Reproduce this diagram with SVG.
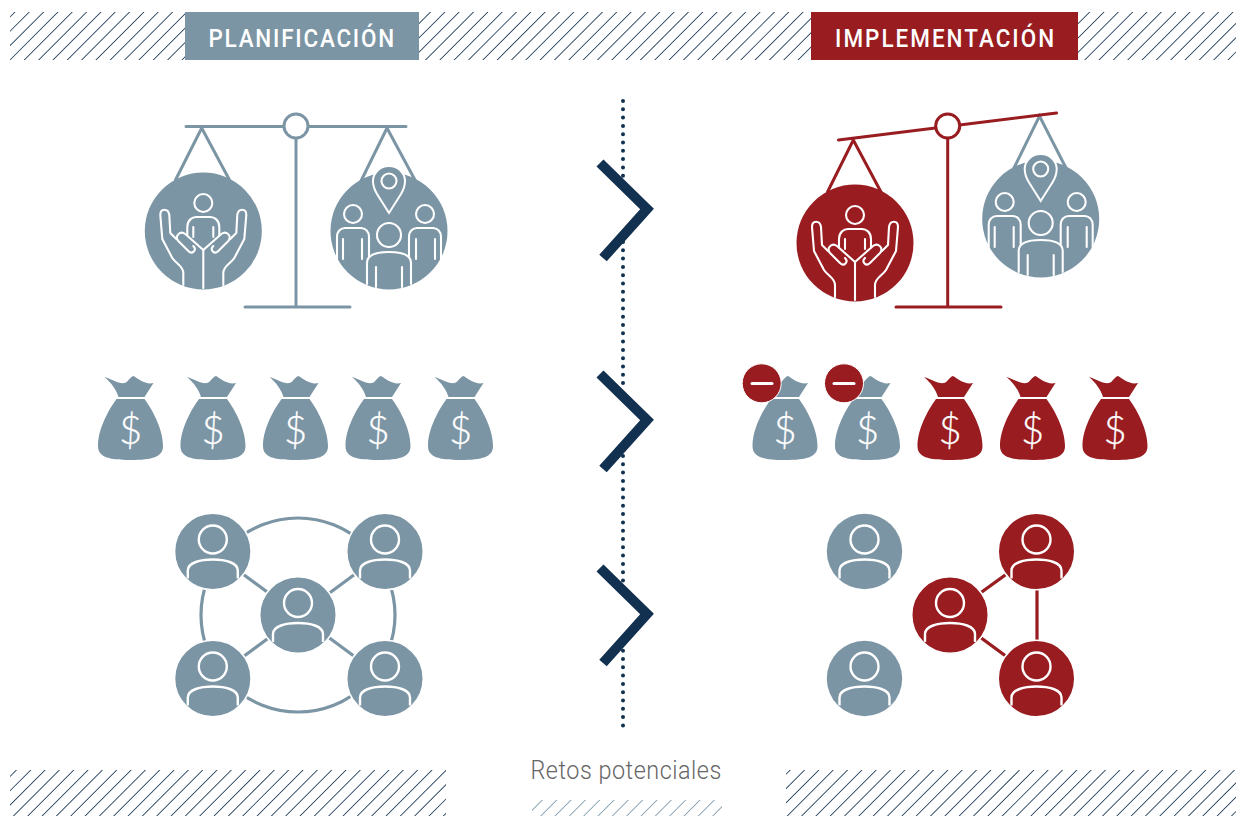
<svg xmlns="http://www.w3.org/2000/svg" width="1240" height="816" viewBox="0 0 1240 816">
<style>
.g{fill:#7b95a5}.r{fill:#981c20}
.lg{stroke:#7b95a5;fill:none;stroke-linecap:round}.lr{stroke:#981c20;fill:none;stroke-linecap:round}
.w{fill:none;stroke:#fff;stroke-width:2.100;stroke-linecap:round;stroke-linejoin:round}
.nw{fill:none;stroke:#fff;stroke-width:2.400;stroke-linecap:butt}
.dots{stroke:#12304f;stroke-width:4;stroke-linecap:round;stroke-dasharray:0 8.3;fill:none}
.chev{stroke:#12304f;stroke-width:10;fill:none;stroke-miterlimit:10}
.head{font-family:Roboto,"Liberation Sans",sans-serif;font-size:25.500px;font-weight:500;fill:#fff}
.dollar{font-family:Lato,"Open Sans",sans-serif;font-weight:300;font-size:40px;fill:#fff;stroke:#fff;stroke-width:.3;text-anchor:middle}
.hat{fill:none;stroke:#12304f;stroke-dasharray:1.150 13.180}
.halo{stroke:#fff;stroke-width:1.600}
</style>
<defs>
<clipPath id="c1"><rect x="10" y="12" width="1226" height="48"/></clipPath>
<clipPath id="c2"><rect x="10" y="770" width="436" height="46"/><rect x="786" y="770" width="450" height="46"/></clipPath>
<clipPath id="c3"><rect x="532" y="800" width="190" height="16"/></clipPath>
<g id="hands" class="w">
<circle cx="0" cy="-28" r="9"/>
<path d="M-16,4 V-4 C-16,-11 -11,-14 -7,-14 H7 C11,-14 16,-11 16,-4 V4"/>
<path d="M-10,-4 V6 M10,-4 V6"/>
<path d="M0,57 V19 L-18,3 C-23,-1 -29,5 -25,10 L-15,20 C-11,24 -6,19 -10,15"/>
<path d="M0,19 L18,3 C23,-1 29,5 25,10 L15,20 C11,24 6,19 10,15"/>
<path d="M-20,54 V42 C-20,35 -27,33 -31,27 L-41,8 L-43,-16 C-43,-23 -35,-23 -34,-16 L-33,2 L-27,8"/>
<path d="M20,54 V42 C20,35 27,33 31,27 L41,8 L43,-16 C43,-23 35,-23 34,-16 L33,2 L27,8"/>
</g>
<g id="crowd">
<path class="g" stroke="#fff" stroke-width="2" d="M0,-18 L-12,-37 C-15,-42 -16,-46 -16,-50 C-16,-58 -9,-65 0,-65 C9,-65 16,-58 16,-50 C16,-46 15,-42 12,-37 Z"/>
<g class="w">
<circle cx="0" cy="-50" r="7.500"/>
<circle cx="-36" cy="-17" r="9"/><circle cx="36" cy="-17" r="9"/><circle cx="0" cy="4" r="12"/>
<path d="M-52,28 V6 C-52,0 -48,-3 -44,-3 H-28 C-24,-3 -20,0 -20,6 V26"/>
<path d="M52,28 V6 C52,0 48,-3 44,-3 H28 C24,-3 20,0 20,6 V26"/>
<path d="M-46,8 V28 M-27,8 V28 M46,8 V28 M27,8 V28"/>
<path d="M-22,53 V32 C-22,25 -16,21 0,21 C16,21 22,25 22,32 V53"/>
<path d="M-13,36 V56 M13,36 V56"/>
</g>
</g>
<path id="bag" d="M-14,0 H14 C22,11 32.500,30 32.500,47 C32.500,58 22,61 0,61 C-22,61 -32.500,58 -32.500,47 C-32.500,30 -22,11 -14,0 Z M-12,-2 C-14,-9 -19,-16 -26,-22 C-19,-20 -12,-15 -6,-16 C-2,-17 -1,-22 3,-23 C8,-20 15,-14 23,-16 L14,-2 Z"/>
<g id="person">
<circle cx="0" cy="-12" r="14" class="nw"/>
<path class="nw" d="M-25,27 V19 C-25,11 -12,8 0,8 C12,8 25,11 25,19 V27"/>
</g>
</defs>

<g id="hatching">
<g clip-path="url(#c1)"><path class="hat" transform="skewX(-45)" stroke-width="48" d="M12.060,36 H1320"/></g>
<g clip-path="url(#c2)"><path class="hat" transform="skewX(-45)" stroke-width="46" d="M728.560,793 H2080"/></g>
<g clip-path="url(#c3)"><path class="hat" style="stroke:#7b95a5" transform="skewX(-45)" stroke-width="16" d="M1327.500,808 H1560"/></g>
</g>

<g id="header-planificacion">
<rect x="185" y="12" width="234" height="48" class="g"/>
<text transform="translate(208.500 46.500) scale(.88 1)" class="head" textLength="211">PLANIFICACIÓN</text>
</g>
<g id="header-implementacion">
<rect x="811" y="12" width="267" height="48" class="r"/>
<text transform="translate(835 46.500) scale(.88 1)" class="head" textLength="249">IMPLEMENTACIÓN</text>
</g>

<g id="connectors">
<path class="dots" d="M623,101 V176"/>
<path class="dots" d="M623,242 V390"/>
<path class="dots" d="M623,456 V581"/>
<path class="dots" d="M623,642.400 V726"/>
<circle class="lg" cx="298" cy="615" r="97" stroke-width="3.200"/>
<path class="lg" stroke-width="3.200" d="M213,552 L385,679 M385,552 L213,679"/>
<path class="lr" stroke-width="3.200" d="M950,615 L1037,552 V679 Z"/>
<path class="chev" d="M600,163 L647,209 L603,258"/>
<path class="chev" d="M600,374 L647,420 L603,469"/>
<path class="chev" d="M600,568 L647,614 L603,663"/>
</g>

<g id="scale-planning">
<path class="lg" stroke-width="3" d="M186,126.500 H406 M296,138 V307 M245,307 H350"/>
<path class="lg" stroke-width="3" stroke-linecap="butt" d="M175.500,180 L201.700,128 L229.500,180 M360.500,182 L387,128 L415,180"/>
<circle cx="296" cy="126" r="12" fill="#fff" stroke="#7b95a5" stroke-width="3"/>
</g>
<g id="pan-community-left">
<circle cx="203.300" cy="231" r="58.500" class="g"/>
<use href="#hands" x="203.300" y="231"/>
</g>
<g id="pan-locals-left">
<circle cx="389" cy="231" r="58.500" class="g"/>
<use href="#crowd" x="389" y="231"/>
</g>

<g id="scale-implementation">
<path class="lg" stroke-width="3" stroke-linecap="butt" d="M1013,170 L1039.500,116 L1066,168"/>
<path class="lr" stroke-width="3" d="M838.500,140 L1056.500,113 M947.700,138 V307 M896,307 H1001"/>
<path class="lr" stroke-width="3" stroke-linecap="butt" d="M827.500,192 L853.300,140 L881,192"/>
<circle cx="947.700" cy="126" r="12" fill="#fff" stroke="#981c20" stroke-width="3"/>
</g>
<g id="pan-community-right">
<circle cx="855" cy="243" r="58.500" class="r"/>
<use href="#hands" x="855" y="243"/>
</g>
<g id="pan-locals-right">
<circle cx="1040.700" cy="219" r="58.500" class="g"/>
<use href="#crowd" x="1040.700" y="219"/>
</g>

<g id="bag-l1"><use href="#bag" x="130.500" y="399" class="g"/><text x="130.500" y="444" class="dollar">$</text></g>
<g id="bag-l2"><use href="#bag" x="213" y="399" class="g"/><text x="213" y="444" class="dollar">$</text></g>
<g id="bag-l3"><use href="#bag" x="295.500" y="399" class="g"/><text x="295.500" y="444" class="dollar">$</text></g>
<g id="bag-l4"><use href="#bag" x="378" y="399" class="g"/><text x="378" y="444" class="dollar">$</text></g>
<g id="bag-l5"><use href="#bag" x="460.500" y="399" class="g"/><text x="460.500" y="444" class="dollar">$</text></g>

<g id="bag-r1"><use href="#bag" x="785" y="399" class="g"/><text x="785" y="444" class="dollar">$</text>
<circle cx="761.700" cy="383.300" r="19.500" class="r" stroke="#fff" stroke-width="1"/><path d="M752,383.500 H772" stroke="#fff" stroke-width="3" stroke-linecap="round"/></g>
<g id="bag-r2"><use href="#bag" x="867.500" y="399" class="g"/><text x="867.500" y="444" class="dollar">$</text>
<circle cx="844" cy="383.300" r="19.500" class="r" stroke="#fff" stroke-width="1"/><path d="M834,383.500 H854" stroke="#fff" stroke-width="3" stroke-linecap="round"/></g>
<g id="bag-r3"><use href="#bag" x="950" y="399" class="r"/><text x="950" y="444" class="dollar">$</text></g>
<g id="bag-r4"><use href="#bag" x="1032.500" y="399" class="r"/><text x="1032.500" y="444" class="dollar">$</text></g>
<g id="bag-r5"><use href="#bag" x="1115" y="399" class="r"/><text x="1115" y="444" class="dollar">$</text></g>

<g id="net-l1"><circle cx="212.800" cy="551.500" r="38.300" class="g halo"/><use href="#person" x="212.800" y="551.500"/></g>
<g id="net-l2"><circle cx="385" cy="551.500" r="38.300" class="g halo"/><use href="#person" x="385" y="551.500"/></g>
<g id="net-l3"><circle cx="298" cy="615" r="38.300" class="g halo"/><use href="#person" x="298" y="615"/></g>
<g id="net-l4"><circle cx="212.800" cy="678.500" r="38.300" class="g halo"/><use href="#person" x="212.800" y="678.500"/></g>
<g id="net-l5"><circle cx="385" cy="678.500" r="38.300" class="g halo"/><use href="#person" x="385" y="678.500"/></g>

<g id="net-r1"><circle cx="864.500" cy="551.500" r="37.700" class="g"/><use href="#person" x="864.500" y="551.500"/></g>
<g id="net-r2"><circle cx="864.500" cy="678.500" r="37.700" class="g"/><use href="#person" x="864.500" y="678.500"/></g>
<g id="net-r3"><circle cx="1036.500" cy="551.500" r="38.300" class="r halo"/><use href="#person" x="1036.500" y="551.500"/></g>
<g id="net-r4"><circle cx="950" cy="615" r="38.300" class="r halo"/><use href="#person" x="950" y="615"/></g>
<g id="net-r5"><circle cx="1036.500" cy="678.500" r="38.300" class="r halo"/><use href="#person" x="1036.500" y="678.500"/></g>

<text id="caption" transform="translate(530.500 778.500) scale(.9 1)" font-family="Roboto,'Liberation Sans',sans-serif" font-weight="300" font-size="26" fill="#666" textLength="212">Retos potenciales</text>
</svg>
